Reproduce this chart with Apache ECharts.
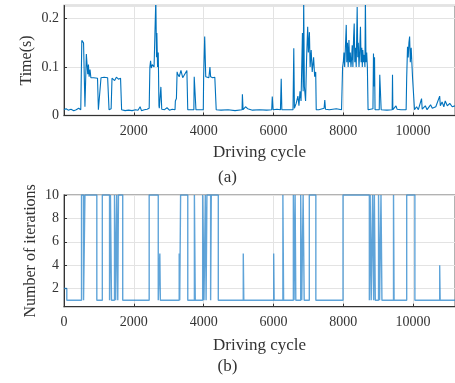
<!DOCTYPE html>
<html>
<head>
<meta charset="utf-8">
<script src="https://cdn.jsdelivr.net/npm/echarts@6/dist/echarts.min.js"></script>
<style>
  html, body { margin: 0; padding: 0; background: #fff; }
  #chart { width: 455px; height: 383px; }
</style>
</head>
<body>
<div id="chart"></div>
<script>
// (a) computation time per driving-cycle step
const timeCycle = [
  0, 60, 120, 200, 280, 350, 420, 480, 500, 510, 560, 600, 630, 640, 680, 700, 720, 745, 770, 800,
  850, 900, 960, 985, 1040, 1060, 1150, 1250, 1290, 1350, 1375, 1420, 1450, 1500, 1560, 1620, 1650,
  1750, 1850, 1950, 2050, 2120, 2180, 2220, 2300, 2380, 2440, 2460, 2480, 2500, 2530, 2580, 2610,
  2630, 2650, 2660, 2680, 2700, 2720, 2730, 2775, 2800, 2880, 2950, 3020, 3100, 3180, 3190, 3220,
  3240, 3260, 3300, 3350, 3400, 3450, 3520, 3545, 3720, 3730, 3770, 3780, 3990, 4000, 4030, 4060,
  4100, 4150, 4180, 4200, 4260, 4320, 4360, 4500, 4700, 4900, 5100, 5110, 5130, 5200, 5260, 5400,
  5600, 5800, 5950, 5966, 5990, 6100, 6200, 6222, 6240, 6400, 6560, 6582, 6600, 6650, 6700, 6730,
  6760, 6790, 6830, 6850, 6866, 6885, 6920, 6950, 6980, 7000, 7030, 7050, 7080, 7110, 7150, 7180,
  7210, 7225, 7300, 7450, 7470, 7490, 7600, 7800, 7950, 7980, 8000, 8020, 8040, 8060, 8085, 8100,
  8120, 8140, 8162, 8180, 8200, 8220, 8240, 8256, 8275, 8295, 8313, 8330, 8350, 8370, 8398, 8415,
  8430, 8450, 8470, 8492, 8510, 8530, 8545, 8559, 8580, 8600, 8620, 8633, 8650, 8670, 8690, 8710,
  8760, 8850, 8865, 8880, 8895, 8910, 9030, 9045, 9075, 9085, 9250, 9400, 9410, 9420, 9510, 9540,
  9650, 9800, 9816, 9840, 9860, 9880, 9900, 9920, 9945, 9970, 9985, 10030, 10040, 10100, 10150,
  10242, 10260, 10350, 10400, 10500, 10550, 10650, 10700, 10761, 10780, 10830, 10880, 10920, 10980,
  11050, 11120, 11200
];
const timeValue = [
  0.012, 0.014, 0.011, 0.013, 0.010, 0.012, 0.015, 0.012, 0.012, 0.155, 0.150, 0.018, 0.020, 0.127, 0.085, 0.105, 0.080, 0.095, 0.078, 0.075,
  0.078, 0.076, 0.077, 0.012, 0.013, 0.078, 0.079, 0.078, 0.012, 0.014, 0.077, 0.080, 0.072, 0.079, 0.075, 0.077, 0.012,
  0.010, 0.011, 0.010, 0.012, 0.011, 0.018, 0.010, 0.012, 0.013, 0.015, 0.100, 0.113, 0.098, 0.105, 0.100, 0.102,
  0.240, 0.120, 0.170, 0.100, 0.130, 0.020, 0.015, 0.059, 0.013, 0.012, 0.016, 0.011, 0.013, 0.012, 0.030, 0.035,
  0.090, 0.085, 0.080, 0.093, 0.078, 0.082, 0.093, 0.012, 0.012, 0.080, 0.080, 0.012, 0.012, 0.080, 0.163, 0.080,
  0.076, 0.078, 0.100, 0.080, 0.078, 0.079, 0.012, 0.011, 0.012, 0.010, 0.012, 0.044, 0.012, 0.018, 0.014, 0.011,
  0.012, 0.011, 0.012, 0.039, 0.012, 0.013, 0.012, 0.076, 0.012, 0.012, 0.012, 0.139, 0.015, 0.025, 0.040, 0.020,
  0.050, 0.030, 0.170, 0.050, 0.240, 0.060, 0.030, 0.120, 0.183, 0.130, 0.172, 0.100, 0.135, 0.090, 0.120, 0.080,
  0.090, 0.012, 0.012, 0.015, 0.032, 0.013, 0.012, 0.014, 0.012, 0.100, 0.110, 0.130, 0.100, 0.140, 0.187, 0.110,
  0.150, 0.100, 0.156, 0.110, 0.130, 0.100, 0.120, 0.145, 0.100, 0.160, 0.190, 0.110, 0.140, 0.100, 0.224, 0.120,
  0.150, 0.100, 0.130, 0.183, 0.110, 0.140, 0.100, 0.135, 0.110, 0.125, 0.100, 0.240, 0.110, 0.130, 0.100, 0.012,
  0.012, 0.014, 0.128, 0.060, 0.120, 0.012, 0.012, 0.084, 0.080, 0.012, 0.011, 0.012, 0.084, 0.012, 0.020, 0.013,
  0.012, 0.012, 0.077, 0.142, 0.120, 0.150, 0.163, 0.110, 0.140, 0.100, 0.077, 0.077, 0.012, 0.018, 0.012,
  0.035, 0.013, 0.020, 0.012, 0.022, 0.015, 0.018, 0.014, 0.040, 0.020, 0.028, 0.018, 0.030, 0.020,
  0.025, 0.018, 0.020
];

// (b) number of iterations; each value holds from its cycle until the next one
const iterCycle = [
  0, 80, 502, 560, 600, 940, 1098, 1305, 1330, 1360, 1447, 1480, 1510, 1540, 1560, 1682,
  2440, 2700, 2745, 2760, 3300, 3315, 3340, 3545, 3735, 3760, 3972, 4010, 4048, 4070, 4094,
  4200, 4219, 4420, 5135, 5150, 6006, 6020, 6270, 6290, 6570, 6590, 6620, 6640, 6780, 6810,
  6850, 6880, 7027, 7214, 7992, 8747, 8770, 8800, 8840, 8870, 8890, 8917, 9010, 9040, 9080,
  9107, 9439, 9455, 9816, 10051, 10761, 10775, 11200
];
const iterValue = [
  2, 1, 10, 1, 10, 1, 10, 1, 10, 1, 10, 1, 10, 1, 10, 1,
  10, 1, 5, 1, 5, 1, 10, 1, 10, 1, 10, 1, 10, 1, 10,
  1, 10, 1, 5, 1, 5, 1, 10, 1, 10, 1, 10, 1, 10, 1,
  10, 1, 10, 1, 10, 1, 10, 1, 10, 1, 10, 1, 10, 1, 10,
  1, 10, 1, 10, 1, 4, 1, 1
];

const xTitle = 'Driving cycle';
const panelLabels = ['(a)', '(b)'];
const yTitles = ['Time(s)', 'Number of iterations'];

const FONT = '"Liberation Serif", "DejaVu Serif", serif';
const TXT = '#333';

function zip(xs, ys) { return xs.map((x, i) => [x, ys[i]]); }
const plain = v => String(v);

const xBase = {
  type: 'value', min: 0, max: 11200, splitNumber: 5,
  axisLine: { show: true, onZero: false, lineStyle: { color: '#333', width: 1 } },
  axisTick: { show: true, inside: true, length: 3, lineStyle: { color: '#333' } },
  splitLine: { show: true, lineStyle: { color: '#e3e3e3', width: 1 } },
  nameLocation: 'middle',
  nameTextStyle: { fontFamily: FONT, fontSize: 17, color: TXT },
};
const yBase = {
  type: 'value',
  axisLine: { show: true, lineStyle: { color: '#333', width: 1 } },
  axisTick: { show: true, inside: true, length: 3, lineStyle: { color: '#333' } },
  splitLine: { show: true, lineStyle: { color: '#e3e3e3', width: 1 } },
  nameLocation: 'middle',
  nameRotate: 90,
  nameMoveOverlap: false,
  nameTextStyle: { fontFamily: FONT, fontSize: 16, color: TXT },
};
const labelStyle = { fontFamily: FONT, fontSize: 14, color: TXT };

const chart = echarts.init(document.getElementById('chart'), null, { renderer: 'canvas' });
chart.setOption({
  animation: false,
  backgroundColor: '#fff',
  grid: [
    { left: 64, top: 5.5, width: 394.8, height: 110, show: true, borderColor: '#999', borderWidth: 1.5, backgroundColor: 'transparent' },
    { left: 64, top: 195, width: 394.8, height: 111.7, show: true, borderColor: '#999', borderWidth: 1.5, backgroundColor: 'transparent' }
  ],
  xAxis: [
    Object.assign({}, xBase, {
      gridIndex: 0, name: xTitle, nameGap: 29,
      axisLabel: Object.assign({}, labelStyle, { margin: 9, showMinLabel: false, showMaxLabel: false, formatter: plain })
    }),
    Object.assign({}, xBase, {
      gridIndex: 1, name: xTitle, nameGap: 30,
      axisLabel: Object.assign({}, labelStyle, { margin: 9, showMinLabel: true, showMaxLabel: false, formatter: plain })
    })
  ],
  yAxis: [
    Object.assign({}, yBase, {
      gridIndex: 0, min: 0, max: 0.227, interval: 0.1, name: yTitles[0], nameGap: 29,
      axisLabel: Object.assign({}, labelStyle, { margin: 5, showMaxLabel: false, formatter: plain })
    }),
    Object.assign({}, yBase, {
      gridIndex: 1, min: 0.45, max: 10, splitNumber: 5, name: yTitles[1], nameGap: 25,
      axisLabel: Object.assign({}, labelStyle, { margin: 5, showMinLabel: false, formatter: plain })
    })
  ],
  series: [
    {
      type: 'line', xAxisIndex: 0, yAxisIndex: 0, data: zip(timeCycle, timeValue),
      showSymbol: false, clip: true,
      lineStyle: { color: '#0072BD', width: 1.1 }
    },
    {
      type: 'line', xAxisIndex: 1, yAxisIndex: 1, data: zip(iterCycle, iterValue),
      step: 'end', showSymbol: false, clip: true,
      lineStyle: { color: '#2a86cc', width: 1.4, opacity: 0.75 }
    }
  ],
  graphic: [
    { type: 'text', left: 'center', top: 169, style: { text: panelLabels[0], fontFamily: FONT, fontSize: 17, fill: TXT } },
    { type: 'text', left: 'center', top: 358, style: { text: panelLabels[1], fontFamily: FONT, fontSize: 17, fill: TXT } }
  ]
});
</script>
</body>
</html>
